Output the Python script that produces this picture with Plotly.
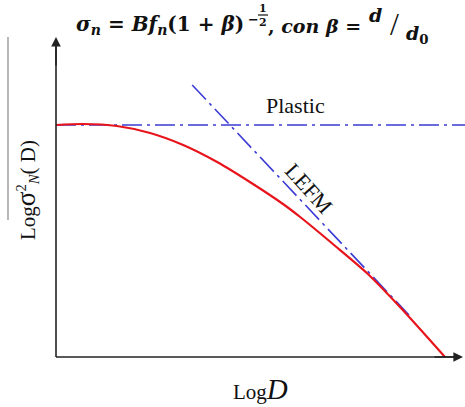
import plotly.graph_objects as go

# Schematic size-effect curve (arbitrary log units)
log_d = [0.00, 0.66, 1.49, 2.30, 3.11, 3.94, 4.74, 5.55, 5.97, 6.77, 7.60, 8.41, 9.51]
log_sigma = [5.80, 5.825, 5.775, 5.60, 5.30, 4.875, 4.375, 3.825, 3.50, 2.825, 2.10, 1.25, 0.0]

plastic_x = [0.0, 10.0]
plastic_y = [5.80, 5.80]

lefm_x = [3.33, 8.63]
lefm_y = [6.80, 1.05]

X_RANGE = [0, 10]
Y_RANGE = [0, 8]

W, H = 465, 407
L, R, T, B = 56, 0, 37, 50
PW = W - L - R
PH = H - T - B


def px(x):
    return (x - L) / PW


def py(y):
    return (H - B - y) / PH


fig = go.Figure()
dash = "20px,5px,3px,5px"
fig.add_trace(go.Scatter(x=plastic_x, y=plastic_y, mode="lines",
                         line=dict(color="#3b3bd6", width=1.5, dash=dash), hoverinfo="skip"))
fig.add_trace(go.Scatter(x=lefm_x, y=lefm_y, mode="lines",
                         line=dict(color="#3b3bd6", width=1.6, dash=dash), hoverinfo="skip"))
fig.add_trace(go.Scatter(x=log_d, y=log_sigma, mode="lines", line_shape="spline",
                         line=dict(color="#e8141c", width=2.2, smoothing=0.8), hoverinfo="skip"))

serif = "Liberation Serif"
mathf = "DejaVu Serif"
ann = []


def label(x, y, text, size, xanchor="center", family=serif, **kw):
    ann.append(dict(x=px(x), y=py(y), xref="paper", yref="paper", showarrow=False,
                    xanchor=xanchor, yanchor="middle", text=text,
                    font=dict(family=family, size=size, color="#111"), **kw))


# axis arrows
ann.append(dict(x=px(56), y=py(37), xref="paper", yref="paper", ax=0, ay=30,
                showarrow=True, arrowhead=2, arrowsize=1.2, arrowwidth=1.6,
                arrowcolor="#222", text=""))
ann.append(dict(x=px(463), y=py(357), xref="paper", yref="paper", ax=-30, ay=0,
                showarrow=True, arrowhead=2, arrowsize=1.2, arrowwidth=1.6,
                arrowcolor="#222", text=""))
# curve labels
label(295, 106, "Plastic", 22)
label(309, 188, "LEFM", 22, textangle=48)
# axis titles
label(260, 389, "Log<i><span style='font-size:29px'>D</span></i>", 21)
label(26, 190, "Log<span style='font-size:27px'>σ</span><sup>2</sup><sub><i>N</i></sub>( D)", 21,
      textangle=-90)
# formula
label(74, 25, "<b><i>σ<sub>n</sub></i> = <i>Bf<sub>n</sub></i>(1 + <i>β</i>)</b>", 20,
      xanchor="left", family=mathf)
label(253, 19, "<b>−</b>", 13, family=mathf)
label(263, 8, "<b>1</b>", 11, family=mathf)
label(263, 22, "<b>2</b>", 11, family=mathf)
label(266, 26, "<b>, <i>con β</i> =</b>", 19, xanchor="left", family=mathf)
label(375, 15, "<b><i>d</i></b>", 19, family=mathf)
label(394, 24, "/", 32)
label(404, 34, "<b><i>d</i><sub>0</sub></b>", 19, xanchor="left", family=mathf)

shapes = [
    dict(type="line", xref="paper", yref="paper", x0=px(56), x1=px(56), y0=py(357), y1=py(45),
         line=dict(color="#222", width=1.6)),
    dict(type="line", xref="paper", yref="paper", x0=px(56), x1=px(455), y0=py(357), y1=py(357),
         line=dict(color="#222", width=1.6)),
    dict(type="line", xref="paper", yref="paper", x0=px(8), x1=px(8), y0=py(37), y1=py(220),
         line=dict(color="#888", width=1.2)),
    dict(type="line", xref="paper", yref="paper", x0=px(258), x1=px(268), y0=py(15), y1=py(15),
         line=dict(color="#111", width=1.2)),
]

fig.update_layout(
    width=W, height=H, margin=dict(l=L, r=R, t=T, b=B),
    paper_bgcolor="white", plot_bgcolor="white", showlegend=False,
    xaxis=dict(range=X_RANGE, visible=False, fixedrange=True),
    yaxis=dict(range=Y_RANGE, visible=False, fixedrange=True),
    annotations=ann, shapes=shapes,
)
fig.write_html("out.html")
